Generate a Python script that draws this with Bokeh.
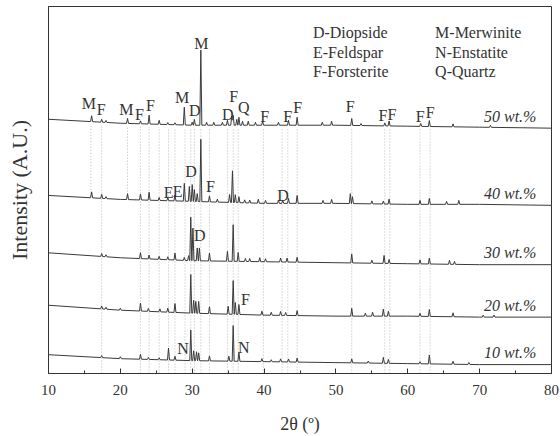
import numpy as np
from bokeh.plotting import figure
from bokeh.models import Range1d, SingleIntervalTicker, FixedTicker
from bokeh.core.properties import value
from bokeh.embed import file_html
from bokeh.resources import INLINE

FONT = "Liberation Serif"
INK = "#333333"

# ---- data (2theta in degrees, intensity in arbitrary units, stacked) ----
angles = [10, 20, 30, 40, 50, 60, 70, 80]
base_50 = [257, 253, 251, 251, 251, 250, 249, 248]
base_40 = [180, 176, 174, 172, 172, 171, 171, 170]
base_30 = [122, 117, 114, 113, 112, 111, 110, 110]
base_20 = [69, 64, 61, 59, 58, 58, 57, 57]
base_10 = [19, 15, 13, 12, 11, 10, 9, 9]

pos_50 = [16.0, 17.4, 18.0, 21.0, 22.8, 24.0, 25.4, 26.6, 27.6, 28.9, 30.0, 30.3, 31.2, 32.0, 33.0,
          34.2, 34.9, 35.5, 35.7, 36.2, 36.5, 37.0, 37.8, 38.8, 39.8, 42.0, 43.4, 44.6, 48.1, 49.4,
          52.2, 53.5, 56.8, 57.4, 61.8, 63.0, 66.3, 71.5]
h_50 = [6, 3, 2, 5, 3, 9, 4, 2, 2, 18, 3, 6, 76, 3, 3,
        3, 5, 9, 10, 6, 8, 4, 4, 3, 4, 3, 5, 8, 3, 4,
        7, 2, 3, 5, 3, 6, 3, 2]

pos_40 = [16.0, 17.4, 18.0, 21.0, 22.8, 24.0, 25.4, 26.6, 27.6, 28.9, 29.6, 30.0, 30.3, 30.7, 31.2,
          32.4, 33.5, 35.2, 35.6, 36.0, 36.5, 37.3, 38.0, 39.2, 40.2, 42.0, 42.6, 43.4, 44.6, 48.2,
          49.4, 52.0, 52.3, 55.0, 56.6, 57.4, 61.7, 63.0, 65.4, 67.1]
h_40 = [6, 4, 2, 6, 6, 8, 3, 3, 6, 18, 15, 17, 12, 8, 63,
        6, 3, 8, 32, 8, 6, 3, 3, 4, 3, 3, 3, 5, 8, 3,
        4, 10, 7, 3, 3, 5, 4, 6, 3, 4]

pos_30 = [17.4, 18.0, 22.8, 24.0, 25.4, 26.6, 27.6, 28.9, 29.5, 29.8, 30.1, 30.7, 31.0, 32.4, 34.9,
          35.7, 36.4, 37.4, 38.0, 39.4, 40.2, 42.3, 43.2, 44.6, 52.2, 55.0, 56.7, 57.4, 61.7, 63.0,
          65.8, 66.5]
h_30 = [3, 2, 6, 4, 3, 3, 7, 3, 5, 44, 33, 13, 13, 8, 10,
        37, 9, 3, 3, 4, 3, 4, 4, 5, 9, 3, 8, 4, 4, 6,
        4, 3]

pos_20 = [17.4, 18.0, 20.0, 22.8, 23.9, 25.5, 26.6, 27.6, 29.8, 30.2, 30.5, 30.9, 32.4, 35.0, 35.7,
          36.0, 36.5, 39.7, 41.0, 42.3, 43.0, 44.6, 52.2, 54.1, 55.1, 56.6, 57.3, 61.7, 63.0, 66.3,
          70.5, 72.0]
h_20 = [3, 2, 2, 8, 3, 3, 4, 9, 39, 13, 12, 12, 7, 8, 34,
        12, 10, 4, 3, 4, 3, 5, 8, 3, 4, 7, 5, 3, 7, 4,
        2, 2]

pos_10 = [17.4, 20.0, 22.8, 23.9, 25.4, 26.7, 27.6, 29.8, 30.2, 30.6, 30.9, 32.4, 35.1, 35.7, 36.5,
          39.7, 41.0, 42.3, 43.4, 44.6, 52.2, 54.5, 56.6, 57.3, 61.7, 63.0, 66.3, 68.5]
h_10 = [2, 2, 5, 2, 2, 12, 4, 31, 10, 9, 8, 5, 5, 36, 9,
        3, 2, 3, 3, 4, 4, 2, 6, 4, 2, 9, 3, 2]

series_labels = ["50 wt.%", "40 wt.%", "30 wt.%", "20 wt.%", "10 wt.%"]

# reference lines (2theta); some only reach down to the 40 wt.% pattern
ref_pos = [15.9, 17.4, 21.0, 22.8, 24.0, 25.4, 26.7, 27.6, 29.0, 29.8, 30.3, 31.2, 32.4, 34.9,
           35.7, 36.4, 39.9, 42.5, 43.3, 44.6, 52.2, 56.8, 57.5, 61.7, 63.1]
ref_to_40 = [True, False, True, False, False, False, False, False, False, False, False, False, False, False,
             False, False, False, False, False, False, False, False, False, False, False]

# phase letters over peaks
lab_text = ["M", "F", "M", "F", "F", "M", "D", "M", "D", "F", "Q", "F", "F", "F", "F", "F", "F", "F", "F",
            "E", "E", "D", "F", "D", "D", "F", "N", "N"]
lab_x = [15.60, 17.33, 20.85, 22.66, 24.19, 28.60, 30.35, 31.28, 34.94, 35.77, 37.16, 40.08, 43.28, 44.67,
         52.0, 56.55, 57.80, 61.74, 63.13,
         26.73, 27.98, 29.85, 32.53, 42.64, 31.04, 37.40, 28.73, 37.16]
lab_y = [273, 267, 267, 262, 271, 279, 266, 334, 262, 280, 269, 260, 260, 269, 270, 261, 262, 260, 264,
         183, 184, 204, 189, 180, 140, 75, 25, 26]

legend_col1 = ["D-Diopside", "E-Feldspar", "F-Forsterite"]
legend_col2 = ["M-Merwinite", "N-Enstatite", "Q-Quartz"]


def pattern(base, pos, h, w=0.14):
    pos = np.asarray(pos, float)
    h = np.asarray(h, float)
    xs = set(angles)
    for p in pos:
        xs.update([p - w, p, p + w])
    xs = np.array(sorted(xs))
    ys = np.interp(xs, angles, base)
    for p, hh in zip(pos, h):
        ys = ys + hh * np.clip(1 - np.abs(xs - p) / w, 0, None)
    return xs, ys


p = figure(width=560, height=436, output_backend="svg", toolbar_location=None,
           x_range=Range1d(10, 80), y_range=Range1d(0, 371),
           min_border_left=48, min_border_right=9, min_border_top=6, min_border_bottom=59)
p.background_fill_color = "white"
p.border_fill_color = "white"
p.outline_line_color = INK
p.outline_line_width = 1
p.xgrid.visible = False
p.ygrid.visible = False

# dotted reference lines
r_x = np.array(ref_pos)
top = np.interp(r_x, angles, base_50) - 3
bot = np.where(ref_to_40, np.interp(r_x, angles, base_40) + 2, 0)
p.segment(x0=r_x, x1=r_x, y0=bot, y1=top, line_color="#b8b8b8", line_width=1, line_dash="1 2")

bases = [base_50, base_40, base_30, base_20, base_10]
poss = [pos_50, pos_40, pos_30, pos_20, pos_10]
hs = [h_50, h_40, h_30, h_20, h_10]
for b, ps, hh in zip(bases, poss, hs):
    xs, ys = pattern(b, ps, hh)
    p.line(xs, ys, line_color="#3a3a3a", line_width=1)

# series labels (right aligned, just above the right end of each pattern)
lab_series_y = [b[-1] + 12 for b in bases]
p.text(x=[77.9] * 5, y=lab_series_y, text=series_labels, text_font=value(FONT),
       text_font_size="16px", text_font_style="italic", text_align="right",
       text_baseline="middle", text_color=INK)

# peak letters
p.text(x=lab_x, y=lab_y, text=lab_text, text_font=value(FONT), text_font_size="16px",
       text_align="center", text_baseline="middle", text_color=INK)

# legend text
p.text(x=[46.8] * 3, y=[345, 325, 305], text=legend_col1, text_font=value(FONT),
       text_font_size="16px", text_align="left", text_baseline="middle", text_color=INK)
p.text(x=[63.8] * 3, y=[345, 325, 305], text=legend_col2, text_font=value(FONT),
       text_font_size="16px", text_align="left", text_baseline="middle", text_color=INK)

# axes
xa = p.xaxis[0]
xa.ticker = SingleIntervalTicker(interval=10, num_minor_ticks=2)
xa.major_tick_in = 5
xa.major_tick_out = 0
xa.minor_tick_in = 3
xa.minor_tick_out = 0
xa.axis_line_color = INK
xa.major_tick_line_color = INK
xa.minor_tick_line_color = INK
xa.major_label_text_font = FONT
xa.major_label_text_font_size = "15px"
xa.major_label_text_color = INK
xa.major_label_standoff = 11
xa.axis_label = "2θ (º)"
xa.axis_label_text_font = FONT
xa.axis_label_text_font_size = "18px"
xa.axis_label_text_font_style = "normal"
xa.axis_label_text_color = INK
xa.axis_label_standoff = 16

ya = p.yaxis[0]
ya.ticker = FixedTicker(ticks=[])
ya.axis_line_color = INK
ya.major_tick_line_color = None
ya.minor_tick_line_color = None
ya.axis_label = "Intensity (A.U.)"
ya.axis_label_text_font = FONT
ya.axis_label_text_font_size = "22px"
ya.axis_label_text_font_style = "normal"
ya.axis_label_text_color = INK
ya.axis_label_standoff = 17

open("out.html", "w").write(file_html(p, INLINE))
